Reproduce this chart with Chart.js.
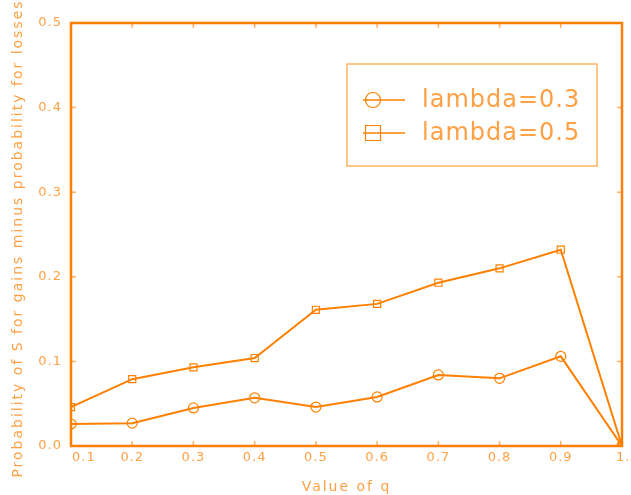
<!DOCTYPE html>
<html>
<head>
<meta charset="utf-8">
<script src="https://cdn.jsdelivr.net/npm/chart.js@4"></script>
<style>
  html, body { margin: 0; padding: 0; background: #fff; }
  #wrap { width: 631px; height: 495px; }
</style>
</head>
<body>
<div id="wrap"><canvas id="chart" width="631" height="495"></canvas></div>
<script>
// Data
const qValues = [0.1, 0.2, 0.3, 0.4, 0.5, 0.6, 0.7, 0.8, 0.9, 1.0];
const lambda03 = [0.026, 0.027, 0.045, 0.057, 0.046, 0.058, 0.084, 0.080, 0.106, 0.0];
const lambda05 = [0.046, 0.079, 0.093, 0.104, 0.161, 0.168, 0.193, 0.210, 0.232, 0.0];
const xTickLabels = ['0.1', '0.2', '0.3', '0.4', '0.5', '0.6', '0.7', '0.8', '0.9', '1.0'];
const yTickValues = [0.0, 0.1, 0.2, 0.3, 0.4, 0.5];
const seriesLabels = ['lambda=0.3', 'lambda=0.5'];
const xTitle = 'Value of q';
const yTitle = 'Probability of S for gains minus probability for losses';

const LINE = '#ff8000';
const TEXT = '#ffa044';
const FONT = '"DejaVu Sans", sans-serif';

function toPoints(ys) {
    return qValues.map((q, i) => ({ x: q, y: ys[i] }));
}

// frame, inner ticks, all text and the legend box
const framePlugin = {
    id: 'frame',
    afterDraw(chart) {
        const ctx = chart.ctx;
        const a = chart.chartArea;
        const xs = chart.scales.x;
        const ys = chart.scales.y;
        ctx.save();

        // ticks pointing inwards on all four sides
        ctx.strokeStyle = '#ffb060';
        ctx.lineWidth = 1.5;
        ctx.beginPath();
        qValues.forEach(q => {
            const px = xs.getPixelForValue(q);
            ctx.moveTo(px, a.bottom); ctx.lineTo(px, a.bottom - 5);
            ctx.moveTo(px, a.top); ctx.lineTo(px, a.top + 5);
        });
        yTickValues.forEach(v => {
            const py = ys.getPixelForValue(v);
            ctx.moveTo(a.left, py); ctx.lineTo(a.left + 5, py);
            ctx.moveTo(a.right, py); ctx.lineTo(a.right - 5, py);
        });
        ctx.stroke();

        // plot frame
        ctx.strokeStyle = LINE;
        ctx.lineWidth = 2.5;
        ctx.strokeRect(a.left, a.top, a.right - a.left, a.bottom - a.top);

        ctx.fillStyle = TEXT;
        ctx.textBaseline = 'middle';
        ctx.letterSpacing = '1px';
        ctx.font = '13px ' + FONT;

        // x tick labels (first and last start at the tick)
        qValues.forEach((q, i) => {
            const px = xs.getPixelForValue(q);
            const last = i === qValues.length - 1;
            const edge = i === 0 || last;
            ctx.textAlign = edge ? 'left' : 'center';
            ctx.fillText(xTickLabels[i], i === 0 ? px + 1 : (last ? px - 6 : px), a.bottom + 12);
        });

        // y tick labels
        ctx.textAlign = 'right';
        yTickValues.forEach(v => {
            ctx.fillText(v.toFixed(1), a.left - 9, ys.getPixelForValue(v));
        });

        // axis titles
        ctx.letterSpacing = '2px';
        ctx.font = '14px ' + FONT;
        ctx.textAlign = 'center';
        ctx.fillText(xTitle, (a.left + a.right) / 2, 487);
        ctx.save();
        ctx.translate(18, (a.top + a.bottom) / 2 + 4);
        ctx.rotate(-Math.PI / 2);
        ctx.fillText(yTitle, 0, 0);
        ctx.restore();

        // legend
        ctx.strokeStyle = '#ffb366';
        ctx.lineWidth = 1.5;
        ctx.strokeRect(347, 64, 250, 102);
        ctx.letterSpacing = '1px';
        ctx.font = '24px ' + FONT;
        ctx.textAlign = 'left';
        chart.data.datasets.forEach((ds, i) => {
            const y = 100 + i * 33;
            ctx.strokeStyle = LINE;
            ctx.lineWidth = 1.5;
            ctx.beginPath();
            ctx.moveTo(363, y); ctx.lineTo(405, y);
            ctx.stroke();
            ctx.lineWidth = 1.2;
            ctx.beginPath();
            if (ds.pointStyle === 'circle') ctx.arc(373, y, 7.5, 0, Math.PI * 2);
            else ctx.rect(365.5, y - 7.5, 15, 15);
            ctx.stroke();
            ctx.fillStyle = TEXT;
            ctx.fillText(ds.label, 422, y + 1);
        });
        ctx.restore();
    }
};

new Chart(document.getElementById('chart'), {
    type: 'line',
    data: {
        datasets: [
            {
                label: seriesLabels[0],
                data: toPoints(lambda03),
                borderColor: LINE,
                borderWidth: 2,
                pointStyle: 'circle',
                pointRadius: 5,
                pointBorderWidth: 1.2,
                pointBorderColor: LINE,
                pointBackgroundColor: 'transparent',
                tension: 0
            },
            {
                label: seriesLabels[1],
                data: toPoints(lambda05),
                borderColor: LINE,
                borderWidth: 2,
                pointStyle: 'rect',
                pointRadius: 5,
                pointBorderWidth: 1.2,
                pointBorderColor: LINE,
                pointBackgroundColor: 'transparent',
                tension: 0
            }
        ]
    },
    options: {
        responsive: false,
        animation: false,
        layout: { padding: { top: 23, right: 9, left: 0, bottom: 0 } },
        plugins: {
            legend: { display: false },
            tooltip: { enabled: false }
        },
        scales: {
            x: {
                type: 'linear',
                min: 0.1,
                max: 1.0,
                border: { display: false },
                grid: { display: false },
                ticks: { display: false, stepSize: 0.1 },
                afterFit(scale) { scale.height = 49; }
            },
            y: {
                min: 0,
                max: 0.5,
                border: { display: false },
                grid: { display: false },
                ticks: { display: false, stepSize: 0.1 },
                afterFit(scale) { scale.width = 71; }
            }
        }
    },
    plugins: [framePlugin]
});
</script>
</body>
</html>
